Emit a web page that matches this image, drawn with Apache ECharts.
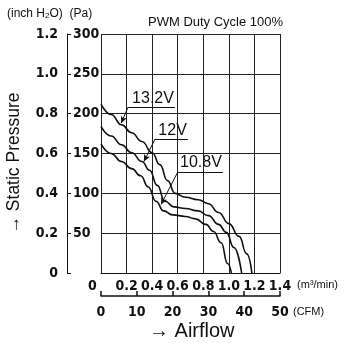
<!DOCTYPE html>
<html>
<head>
<meta charset="utf-8">
<script src="https://cdn.jsdelivr.net/npm/echarts@6/dist/echarts.min.js"></script>
<style>
  html, body { margin: 0; padding: 0; background: #fff; }
  #chart, #cfm { position: absolute; left: 0; top: 0; width: 351px; height: 343px; }
  #cfm { pointer-events: none; }
</style>
</head>
<body>
<div id="chart"></div>
<div id="cfm"></div>
<script>
// 风量 (m³/min) / 静压 (Pa)
const flow132 = [0, 0.08, 0.16, 0.24, 0.32, 0.40, 0.46, 0.52, 0.58, 0.66, 0.76, 0.84, 0.92, 1.00, 1.08, 1.14, 1.18];
const pres132 = [212, 199, 186, 176, 165, 151, 136, 116, 100, 95, 92, 87, 76, 62, 46, 24, 0];
const flow120 = [0, 0.08, 0.16, 0.24, 0.32, 0.38, 0.44, 0.50, 0.57, 0.66, 0.76, 0.84, 0.92, 0.98, 1.04, 1.10];
const pres120 = [184, 172, 161, 151, 140, 129, 110, 90, 83, 81, 78, 72, 61, 51, 32, 0];
const flow108 = [0, 0.08, 0.16, 0.24, 0.31, 0.37, 0.43, 0.49, 0.56, 0.66, 0.74, 0.82, 0.88, 0.94, 0.99, 1.02];
const pres108 = [162, 150, 140, 131, 122, 108, 90, 78, 73, 71, 68, 61, 52, 38, 12, 0];

const voltNames = ['13.2V', '12V', '10.8V'];
// 标注: 下划线 [x1, x2, y], 箭头终点 [x, y]
const underlines = [[0.211, 0.578, 208], [0.422, 0.679, 168], [0.601, 0.953, 127]];
const arrowTips = [[0.158, 188], [0.336, 140], [0.47, 86]];

const m3Ticks = [0, 1.4, 0.2];
const cfmTicks = [0, 50, 10];
const paTicks = [0, 300, 50];
const inchTicks = [0, 1.2, 0.2];

const numFont = '"Liberation Sans Narrow", "DejaVu Sans Condensed", "Arial Narrow", sans-serif';
const txtFont = '"Liberation Sans", Arial, sans-serif';
const ink = '#111';

const zip = (xs, ys) => xs.map((x, i) => [x, ys[i]]);

const makeSeries = (name, data, idx) => {
    const u = underlines[idx], t = arrowTips[idx];
    return {
        name,
        type: 'line',
        data,
        smooth: 0.5,
        smoothMonotone: 'x',
        symbol: 'none',
        lineStyle: { color: ink, width: 1.6 },
        markLine: {
            silent: true,
            symbol: ['none', 'none'],
            lineStyle: { color: ink, width: 1, type: 'solid' },
            label: { show: false },
            data: [
                [
                    { coord: [u[0], u[2]], symbol: 'none' },
                    {
                        coord: [u[1], u[2]], symbol: 'none',
                        label: {
                            show: true, formatter: name, position: 'insideEndTop', distance: 1,
                            color: ink, fontSize: 16, fontFamily: txtFont
                        }
                    }
                ],
                [
                    { coord: [u[0], u[2]], symbol: 'none' },
                    { coord: t, symbol: 'arrow', symbolSize: [5, 7] }
                ]
            ]
        }
    };
};

const chart = echarts.init(document.getElementById('chart'));
chart.setOption({
    animation: false,
    backgroundColor: '#fff',
    title: [
        { text: 'PWM Duty Cycle 100%', left: 148, top: 16, padding: 0, textStyle: { fontSize: 13, fontWeight: 'normal', color: ink, fontFamily: txtFont } },
        {
            text: '(inch H{s|2}O)  (Pa)', left: 7, top: 8, padding: 0,
            textStyle: {
                fontSize: 12, fontWeight: 'normal', color: ink, fontFamily: txtFont,
                rich: { s: { fontSize: 8, fontFamily: txtFont, color: ink, padding: [3, 0, 0, 0] } }
            }
        },
        { text: '→ Airflow', left: 149, top: 321, padding: 0, textStyle: { fontSize: 20, fontWeight: 'normal', color: ink, fontFamily: txtFont } }
    ],
    graphic: [{
        type: 'text',
        x: 14, y: 163,
        rotation: Math.PI / 2,
        style: { text: '→ Static Pressure', fontSize: 17.5, fontFamily: txtFont, fill: ink, align: 'center', verticalAlign: 'middle' }
    }],
    grid: { left: 101, top: 34, width: 179, height: 239 },
    xAxis: {
        type: 'value', min: m3Ticks[0], max: m3Ticks[1], interval: m3Ticks[2],
        axisLine: { show: true, onZero: false, lineStyle: { color: ink, width: 1 } },
        axisTick: { show: false },
        splitLine: { show: true, lineStyle: { color: '#222', width: 1 } },
        axisLabel: {
            margin: 6, color: ink, fontSize: 14, fontWeight: 'bold', fontFamily: numFont,
            formatter: v => v === 0 ? '{o|0}' : v.toFixed(1),
            rich: { o: { fontSize: 14, fontWeight: 'bold', fontFamily: numFont, color: ink, padding: [0, 17, 0, 0] } }
        },
        name: '(m³/min)', nameLocation: 'end', nameGap: 13,
        nameTextStyle: { fontSize: 11, color: ink, fontFamily: txtFont, verticalAlign: 'top', padding: [6, 0, 0, 0] }
    },
    yAxis: [
        {
            type: 'value', position: 'left', offset: 34,
            min: paTicks[0], max: paTicks[1], interval: paTicks[2],
            axisLine: { show: true, onZero: false, lineStyle: { color: ink, width: 1 } },
            axisTick: { show: true, inside: true, length: 4, lineStyle: { color: ink } },
            splitLine: { show: true, lineStyle: { color: '#222', width: 1 } },
            axisLabel: {
                inside: true, margin: 6, color: ink, fontSize: 14, fontWeight: 'bold', fontFamily: numFont,
                formatter: v => v === 0 ? '' : String(v)
            }
        },
        {
            type: 'value', position: 'left', offset: 34,
            min: inchTicks[0], max: inchTicks[1], interval: inchTicks[2],
            axisLine: { show: false },
            axisTick: { show: false },
            splitLine: { show: false },
            axisLabel: {
                margin: 9, color: ink, fontSize: 14, fontWeight: 'bold', fontFamily: numFont,
                formatter: v => v === 0 ? '0' : v.toFixed(1)
            }
        }
    ],
    series: [
        makeSeries(voltNames[0], zip(flow132, pres132), 0),
        makeSeries(voltNames[1], zip(flow120, pres120), 1),
        makeSeries(voltNames[2], zip(flow108, pres108), 2)
    ]
});

// CFM 副轴单独叠一层透明图表, 线宽 1 时轴线出不来, 用 1.5
const cfmChart = echarts.init(document.getElementById('cfm'));
cfmChart.setOption({
    animation: false,
    grid: { left: 101, top: 291, width: 179, height: 5 },
    xAxis: {
        type: 'value', min: cfmTicks[0], max: cfmTicks[1], interval: cfmTicks[2],
        axisLine: { show: true, onZero: false, lineStyle: { color: ink, width: 1.5 } },
        axisTick: { show: true, inside: true, length: 5, lineStyle: { color: ink, width: 1.5 } },
        splitLine: { show: false },
        axisLabel: { margin: 9, color: ink, fontSize: 14, fontWeight: 'bold', fontFamily: numFont },
        name: '(CFM)', nameLocation: 'end', nameGap: 13,
        nameTextStyle: { fontSize: 11, color: ink, fontFamily: txtFont, verticalAlign: 'top', padding: [10, 0, 0, 0] }
    },
    yAxis: { type: 'value', min: 0, max: 1, show: false },
    series: [{ type: 'line', data: [] }]
});
</script>
</body>
</html>
